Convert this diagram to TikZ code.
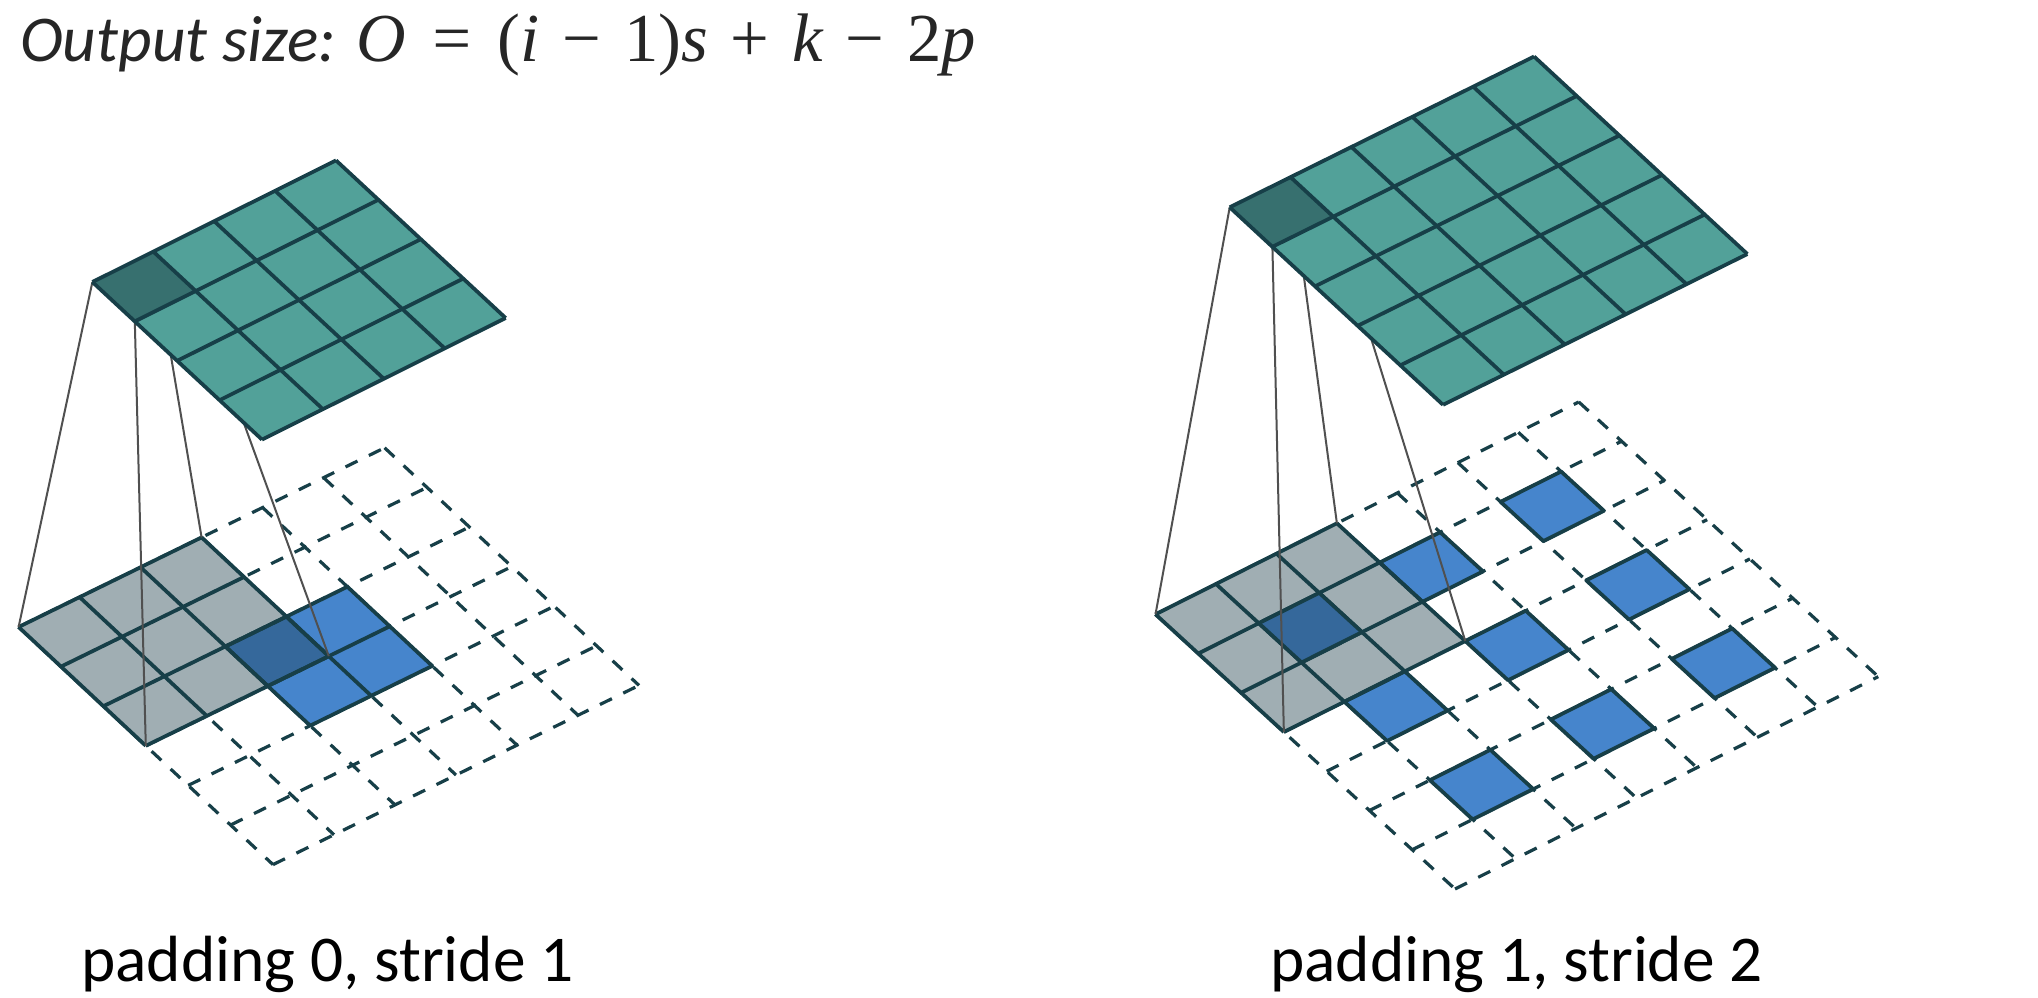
\documentclass[tikz,border=0pt]{standalone}
\usepackage{fontspec}
\setmainfont{Carlito}
\newfontfamily\formulafont{Liberation Serif}
\definecolor{LayerTeal}{HTML}{52A199}
\definecolor{LayerDarkTeal}{HTML}{37706F}
\definecolor{LayerGray}{HTML}{A0AEB3}
\definecolor{LayerBlue}{HTML}{4685CC}
\definecolor{LayerDarkBlue}{HTML}{35689B}
\definecolor{LayerEdge}{HTML}{173F48}
\definecolor{ProjLine}{HTML}{505050}
\newcommand{\fillblock}[5]{\fill[#1] (#2,#3) -- (#4,#3) -- (#4,#5) -- (#2,#5) -- cycle;}
\tikzset{
  cellline/.style={draw=LayerEdge, line width=2.8pt, line join=round},
  dashline/.style={draw=LayerEdge, line width=2.4pt, dash pattern=on 10pt off 9.5pt},
  projline/.style={draw=ProjLine, line width=1.5pt},
  leftinput/.style={shift={(18.6,627)}, x={(45.75pt,22.4pt)}, y={(31.8pt,-29.7pt)}},
  rightinput/.style={shift={(1155.5,614.3)}, x={(45.35pt,22.75pt)}, y={(32.09pt,-29.43pt)}},
  leftoutput/.style={shift={(92.4,282)}, x={(45.68pt,22.8pt)}, y={(31.8pt,-29.55pt)}},
  rightoutput/.style={shift={(1229.7,207.3)}, x={(45.65pt,22.62pt)}, y={(32pt,-29.63pt)}},
  caption/.style={anchor=base west, font=\fontsize{49pt}{49pt}\selectfont, text=black, inner sep=0pt}
}
\begin{document}
\begin{tikzpicture}[x=0.75pt, y=-0.75pt]
  \useasboundingbox[fill=white] (0,0) rectangle (2038,998);
  % corners of the dark output cells
  \coordinate (ltA) at (92.4,282);
  \coordinate (ltB) at (153.3,251.6);
  \coordinate (ltC) at (195.7,291);
  \coordinate (ltD) at (134.8,321.4);
  \coordinate (rtA) at (1229.7,207.3);
  \coordinate (rtB) at (1290.56,177.14);
  \coordinate (rtC) at (1333.2,216.64);
  \coordinate (rtD) at (1272.4,246.8);

  % left input
  \begin{scope}[leftinput]
    \foreach \i in {0,...,6} {
      \draw[dashline] (\i,0) -- (\i,6);
      \draw[dashline] (0,\i) -- (6,\i);
    }
    \fillblock{LayerBlue}{2}{2}{4}{4}
    \fillblock{LayerGray}{0}{0}{3}{3}
    \fillblock{LayerDarkBlue}{2}{2}{3}{3}
    \foreach \i in {0,...,3} {
      \draw[cellline] (\i,0) -- (\i,3);
      \draw[cellline] (0,\i) -- (3,\i);
    }
    \foreach \i in {2,3,4} {
      \draw[cellline] (\i,2) -- (\i,4);
      \draw[cellline] (2,\i) -- (4,\i);
    }
    \coordinate (lgA) at (0,0);
    \coordinate (lgB) at (3,0);
    \coordinate (lgC) at (3,3);
    \coordinate (lgD) at (0,3);
  \end{scope}
  \draw[projline] (ltA) -- (lgA);
  \draw[projline] (ltB) -- (lgB);
  \draw[projline] (ltC) -- (lgC);
  \draw[projline] (ltD) -- (lgD);

  % left output
  \begin{scope}[leftoutput]
    \fillblock{LayerTeal}{0}{0}{4}{4}
    \fillblock{LayerDarkTeal}{0}{0}{1}{1}
    \foreach \i in {0,...,4} {
      \draw[cellline] (\i,0) -- (\i,4);
      \draw[cellline] (0,\i) -- (4,\i);
    }
  \end{scope}

  % right input
  \begin{scope}[rightinput]
    \foreach \i in {0,...,7} {
      \draw[dashline] (\i,0) -- (\i,7);
      \draw[dashline] (0,\i) -- (7,\i);
    }
    \fillblock{LayerGray}{0}{0}{3}{3}
    \foreach \a in {1,3,5} \foreach \b in {1,3,5} {
      \filldraw[cellline, fill=LayerBlue] (\a,\b) -- ++(1,0) -- ++(0,1) -- ++(-1,0) -- cycle;
    }
    \fillblock{LayerDarkBlue}{1}{1}{2}{2}
    \foreach \i in {0,...,3} {
      \draw[cellline] (\i,0) -- (\i,3);
      \draw[cellline] (0,\i) -- (3,\i);
    }
    \coordinate (rgA) at (0,0);
    \coordinate (rgB) at (3,0);
    \coordinate (rgC) at (3,3);
    \coordinate (rgD) at (0,3);
  \end{scope}
  \draw[projline] (rtA) -- (rgA);
  \draw[projline] (rtB) -- (rgB);
  \draw[projline] (rtC) -- (rgC);
  \draw[projline] (rtD) -- (rgD);

  % right output
  \begin{scope}[rightoutput]
    \fillblock{LayerTeal}{0}{0}{5}{5}
    \fillblock{LayerDarkTeal}{0}{0}{1}{1}
    \foreach \i in {0,...,5} {
      \draw[cellline] (\i,0) -- (\i,5);
      \draw[cellline] (0,\i) -- (5,\i);
    }
  \end{scope}

  \node[caption, text=black!85] (formula) at (20,62) {\itshape Output size: {\formulafont\fontsize{51.5pt}{52pt}\selectfont O\,\,=\,\,{\upshape(}i\,\,{\upshape−}\,\,{\upshape 1)}s\,\,{\upshape +}\,\,k\,\,{\upshape −}\,\,{\upshape 2}p}};
  \node[caption] (leftcap) at (81,981) {padding 0, stride 1};
  \node[caption] (rightcap) at (1270,981) {padding 1, stride 2};
\end{tikzpicture}
\end{document}
